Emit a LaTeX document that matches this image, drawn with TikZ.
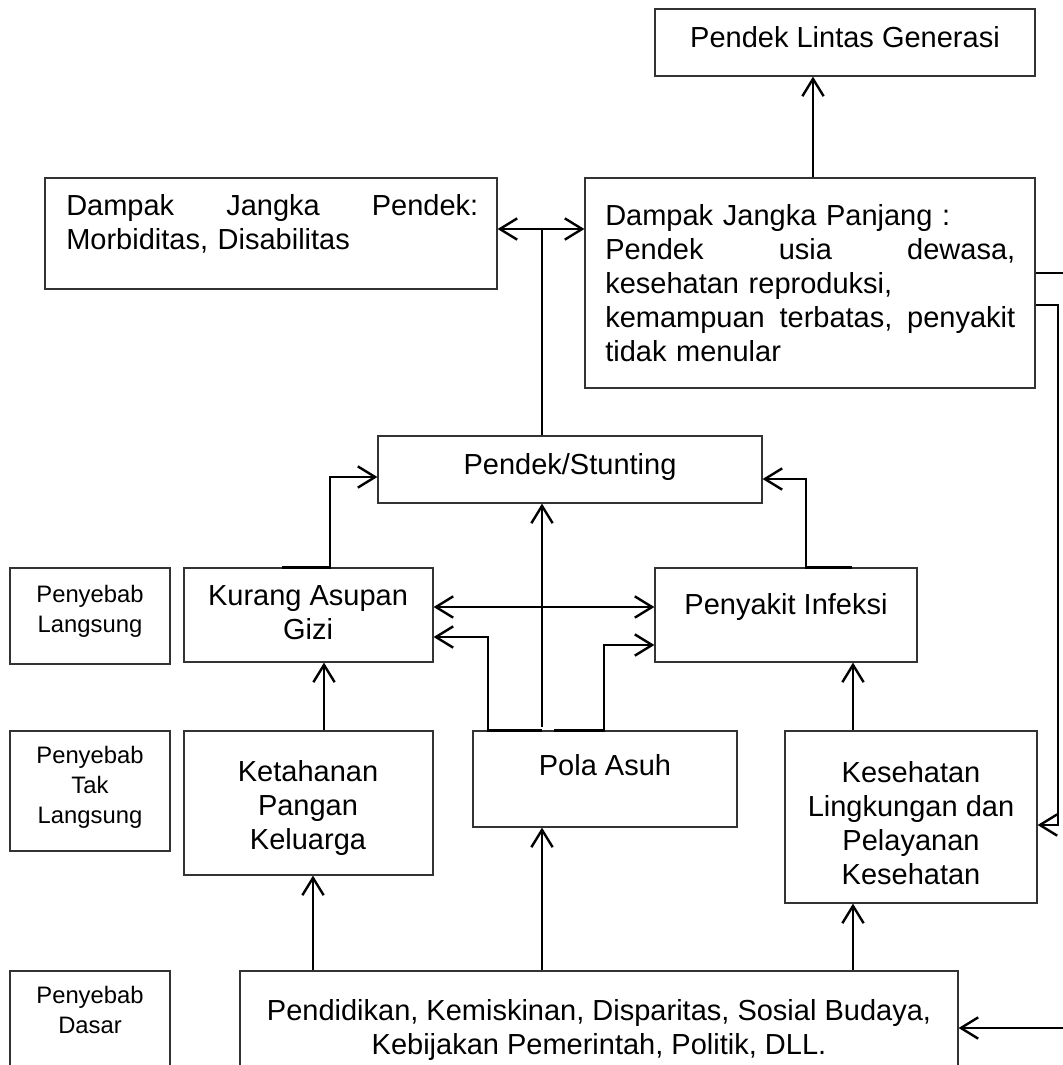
\documentclass[tikz,border=0pt]{standalone}
\usepackage{fontspec}
\setmainfont{Liberation Sans}
\usetikzlibrary{arrows.meta,fit}
\newcommand\hstr{\rule{0pt}{17pt}}
\newcommand\sstr{\rule{0pt}{13pt}}
\newcommand\jline[2]{\leavevmode\hbox to #1{#2}}
\begin{document}
\begin{tikzpicture}[x=0.75pt,y=-0.75pt,
  box/.style={draw=black!80, line width=0.9pt, inner sep=0pt},
  txt/.style={font=\fontsize{21.75}{25.5}\selectfont, inner sep=0pt, align=center, anchor=north},
  stxt/.style={font=\fontsize{17.85}{22.5}\selectfont, inner sep=0pt, align=center, anchor=north},
  con/.style={line width=2.2pt, line join=miter, draw=black},
  arr/.style={con, -{Straight Barb[length=13pt,width=16pt,line width=1.8pt]}},
  arrs/.style={con, {Straight Barb[length=13pt,width=16pt,line width=1.8pt]}-{Straight Barb[length=13pt,width=16pt,line width=1.8pt]}},
]
\useasboundingbox (0,0) rectangle (1063,1065);
\clip (0,0) rectangle (1063,1065);

% boxes
\node[box, fit={(655,9) (1035,76)}] (lg) {};
\node[box, fit={(45,178) (497,289)}] (dpd) {};
\node[box, fit={(585,178) (1035,388)}] (dpj) {};
\node[box, fit={(378,436) (762,503)}] (st) {};
\node[box, fit={(10,568) (170,664)}] (pl) {};
\node[box, fit={(184,568) (433,662)}] (kag) {};
\node[box, fit={(655,568) (917,662)}] (pi) {};
\node[box, fit={(10,731) (170,851)}] (ptl) {};
\node[box, fit={(184,731) (433,875)}] (kpk) {};
\node[box, fit={(473,731) (737,827)}] (pa) {};
\node[box, fit={(785,731) (1037,903)}] (kl) {};
\node[box, fit={(10,971) (170,1100)}] (pd) {};
\node[box, fit={(240,971) (958,1100)}] (pdk) {};

% texts
\node[txt] (tlg) at (845,24.3) {\hstr Pendek Lintas Generasi};
\node[txt, anchor=north west, text width=309pt, align=left] (tdpd) at (66,192.3)
  {\jline{309pt}{\hstr Dampak\hfill Jangka\hfill Pendek:}\\ Morbiditas, Disabilitas};
\node[txt, anchor=north west, text width=307.5pt, align=left] (tdpj) at (605,202.3)
  {\hstr Dampak Jangka Panjang :\\
   \jline{307.5pt}{Pendek\hfill usia\hfill dewasa,}\\
   kesehatan reproduksi,\\
   \jline{307.5pt}{kemampuan\hfill terbatas,\hfill penyakit}\\
   tidak menular};
\node[txt] (tst) at (570,451.3) {\hstr Pendek/Stunting};
\node[txt] (tkag) at (308,582.3) {\hstr Kurang Asupan\\Gizi};
\node[txt] (tpi) at (786,591.3) {\hstr Penyakit Infeksi};
\node[txt] (tkpk) at (308,758.3) {\hstr Ketahanan\\Pangan\\Keluarga};
\node[txt] (tpa) at (605,752.3) {\hstr Pola Asuh};
\node[txt] (tkl) at (911,759.3) {\hstr Kesehatan\\Lingkungan dan\\Pelayanan\\Kesehatan};
\node[txt] (tpdk) at (599,997.3) {\hstr Pendidikan, Kemiskinan, Disparitas, Sosial Budaya,\\Kebijakan Pemerintah, Politik, DLL.};
\node[stxt] (tpl) at (90,584.7) {\sstr Penyebab\\Langsung};
\node[stxt] (tptl) at (90,745.7) {\sstr Penyebab\\Tak\\Langsung};
\node[stxt] (tpd) at (90,985.7) {\sstr Penyebab\\Dasar};

% connectors
\coordinate (j1) at (542,229);
\draw[arr] (813,0 |- dpj.north) -- (813,0 |- lg.south);
\draw[arrs] (dpd.east |- j1) -- (dpj.west |- j1);
\draw[con] (j1 |- st.north) -- (j1);
\draw[arr] (282,0 |- kag.north) -- (330,0 |- kag.north) |- (st.west |- 0,477);
\draw[arr] (852,0 |- pi.north) -- (806,0 |- pi.north) |- (st.east |- 0,479);
\draw[arrs] (kag.east |- 0,607) -- (pi.west |- 0,607);
\draw[arr] (542,0 |- pa.north) -- (488,0 |- pa.north) |- (kag.east |- 0,637);
\draw[arr] (554,0 |- pa.north) -- (604,0 |- pa.north) |- (pi.west |- 0,645);
\draw[arr] (542,727) -- (542,0 |- st.south);
\draw[arr] (324,0 |- kpk.north) -- (324,0 |- kag.south);
\draw[arr] (853,0 |- kl.north) -- (853,0 |- pi.south);
\draw[arr] (313,0 |- pdk.north) -- (313,0 |- kpk.south);
\draw[arr] (542,0 |- pdk.north) -- (542,0 |- pa.south);
\draw[arr] (853,0 |- pdk.north) -- (853,0 |- kl.south);
\draw[arr] (dpj.east |- 0,305) -- (1058,305) |- (kl.east |- 0,825);
\draw[arr] (dpj.east |- 0,273) -- (1085,273) |- (pdk.east |- 0,1028);
\end{tikzpicture}
\end{document}
